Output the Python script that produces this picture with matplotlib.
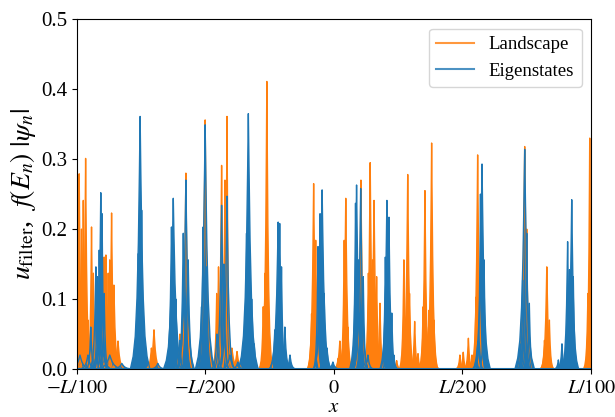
import matplotlib
matplotlib.use("Agg")
import matplotlib.pyplot as plt
from matplotlib.lines import Line2D
import numpy as np

plt.rcParams['font.family'] = 'serif'
plt.rcParams['font.serif'] = ['Liberation Serif', 'DejaVu Serif']
plt.rcParams['mathtext.fontset'] = 'stix'

# x in units of L/100, peaks: centre, height, half-width
land_x = [-0.996, -0.991, -0.982, -0.975, -0.966, -0.957, -0.943, -0.936, -0.922,
          -0.894, -0.887, -0.878, -0.872, -0.865, -0.856, -0.840,
          -0.960, -0.870,
          -0.710, -0.700, -0.599, -0.576, -0.501,
          -0.456, -0.449, -0.437, -0.424, -0.416, -0.397, -0.377,
          -0.275, -0.268, -0.261, -0.087, -0.079, -0.071,
          0.016, 0.023, 0.040, 0.046, 0.054, 0.105,
          0.134, 0.141, 0.150, 0.156, 0.166, 0.179, 0.155, 0.244,
          0.272, 0.287, 0.294, 0.314, 0.327,
          0.347, 0.354, 0.370, 0.380, 0.389, 0.368,
          0.490, 0.503, 0.523, 0.537, 0.553, 0.559,
          0.742, 0.750, 0.819, 0.828, 0.838, 0.988, 0.995]
land_h = [0.14, 0.279, 0.20, 0.241, 0.301, 0.07, 0.203, 0.137, 0.05,
          0.16, 0.163, 0.137, 0.156, 0.223, 0.12, 0.04,
          0.06, 0.08,
          0.03, 0.056, 0.05, 0.28, 0.356,
          0.108, 0.146, 0.291, 0.270, 0.361, 0.03, 0.025,
          0.089, 0.137, 0.411, 0.079, 0.265, 0.184,
          0.015, 0.04, 0.184, 0.244, 0.06, 0.270,
          0.137, 0.295, 0.156, 0.241, 0.132, 0.094, 0.08, 0.012,
          0.156, 0.278, 0.108, 0.068, 0.022,
          0.089, 0.255, 0.084, 0.323, 0.07, 0.06,
          0.02, 0.024, 0.044, 0.02, 0.103, 0.306,
          0.318, 0.20, 0.041, 0.146, 0.070, 0.108, 0.33]
land_w = [0.012, 0.014, 0.012, 0.014, 0.014, 0.012, 0.012, 0.012, 0.016,
          0.014, 0.014, 0.012, 0.014, 0.014, 0.016, 0.019,
          0.030, 0.030,
          0.016, 0.019, 0.012, 0.016, 0.019,
          0.012, 0.012, 0.016, 0.012, 0.012, 0.023, 0.019,
          0.012, 0.012, 0.016, 0.012, 0.016, 0.012,
          0.012, 0.016, 0.012, 0.016, 0.012, 0.016,
          0.012, 0.016, 0.012, 0.016, 0.012, 0.012, 0.030, 0.012,
          0.012, 0.016, 0.012, 0.012, 0.012,
          0.012, 0.014, 0.012, 0.016, 0.012, 0.030,
          0.012, 0.012, 0.012, 0.012, 0.012, 0.016,
          0.019, 0.012, 0.012, 0.016, 0.012, 0.012, 0.012]

eig_x = [-0.988, -0.957, -0.946, -0.926, -0.919, -0.913, -0.907, -0.902, -0.894,
         -0.910,
         -0.872, -0.825, -0.761, -0.754, -0.748, -0.685,
         -0.632, -0.625, -0.615, -0.599, -0.586, -0.576, -0.567,
         -0.515, -0.509, -0.501, -0.495,
         -0.455, -0.437, -0.428, -0.416, -0.405, -0.374,
         -0.340, -0.333, -0.320, -0.310,
         -0.230, -0.217, -0.211, -0.204, -0.191, -0.171,
         -0.062, -0.054, -0.046, -0.038, -0.027, -0.004,
         0.084, 0.088, 0.095, 0.104, 0.114, 0.132, 0.097,
         0.200, 0.206, 0.214, 0.225, 0.233,
         0.560, 0.570, 0.576, 0.584,
         0.724, 0.734, 0.742, 0.750, 0.760,
         0.873, 0.887, 0.909, 0.916, 0.925, 0.931]
eig_h = [0.02, 0.02, 0.060, 0.146, 0.132, 0.170, 0.252, 0.222, 0.108,
         0.07,
         0.02, 0.008, 0.165, 0.361, 0.227, 0.008,
         0.203, 0.244, 0.10, 0.041, 0.194, 0.270, 0.156,
         0.089, 0.203, 0.349, 0.146,
         0.05, 0.234, 0.15, 0.247, 0.02, 0.01,
         0.194, 0.365, 0.100, 0.036,
         0.056, 0.210, 0.208, 0.146, 0.06, 0.02,
         0.175, 0.222, 0.256, 0.108, 0.03, 0.01,
         0.237, 0.263, 0.156, 0.258, 0.132, 0.02, 0.08,
         0.16, 0.241, 0.217, 0.08, 0.02,
         0.04, 0.25, 0.293, 0.156,
         0.036, 0.127, 0.314, 0.194, 0.094,
         0.013, 0.036, 0.182, 0.142, 0.242, 0.132]
eig_w = [0.031, 0.023, 0.012, 0.016, 0.012, 0.012, 0.016, 0.012, 0.012,
         0.030,
         0.039, 0.031, 0.012, 0.027, 0.012, 0.023,
         0.016, 0.027, 0.016, 0.012, 0.016, 0.023, 0.016,
         0.012, 0.012, 0.027, 0.012,
         0.016, 0.019, 0.012, 0.019, 0.023, 0.019,
         0.012, 0.027, 0.016, 0.012,
         0.016, 0.023, 0.016, 0.012, 0.016, 0.016,
         0.012, 0.016, 0.023, 0.012, 0.016, 0.019,
         0.012, 0.019, 0.012, 0.019, 0.012, 0.016, 0.025,
         0.012, 0.019, 0.016, 0.012, 0.012,
         0.016, 0.012, 0.023, 0.012,
         0.012, 0.012, 0.027, 0.012, 0.012,
         0.012, 0.012, 0.016, 0.012, 0.019, 0.012]

# shape of one spike (relative to its half-width and height)
spike_dx = np.array([-1.4, -1.0, -0.7, -0.45, -0.25, -0.1, 0,
                     0.1, 0.25, 0.45, 0.7, 1.0, 1.4])
spike_dy = np.array([0, 0.05, 0.13, 0.28, 0.5, 0.78, 1,
                     0.78, 0.5, 0.28, 0.13, 0.05, 0])

fig = plt.figure(figsize=(6.15, 4.17), dpi=100)
ax = fig.add_axes([0.125, 0.115, 0.836, 0.839])


def draw_peaks(xs, hs, ws, color):
    for c, h, w in zip(xs, hs, ws):
        px = c + w * spike_dx
        py = h * spike_dy
        ax.fill(px, py, color=color, lw=0)
        ax.plot(px, py, color=color, lw=1.0)


draw_peaks(land_x, land_h, land_w, 'C1')
draw_peaks(eig_x, eig_h, eig_w, 'C0')
ax.plot([-1, 1], [0, 0], color='C0', lw=1.5)

ax.set_xlim(-1, 1)
ax.set_ylim(0, 0.5)
ax.set_xticks([-1, -0.5, 0, 0.5, 1])
ax.set_xticklabels(['$-L/100$', '$-L/200$', '$0$', '$L/200$', '$L/100$'])
ax.set_yticks([0, 0.1, 0.2, 0.3, 0.4, 0.5])
ax.tick_params(axis='y', labelsize=15)
ax.tick_params(axis='x', labelsize=14.5, pad=4)
ax.set_xlabel('$x$', fontsize=15, labelpad=0)
ax.set_ylabel(r'$u_{\rm filter}$,$\ \ f(E_n)\ |\psi_n|$', fontsize=20, labelpad=2)

handles = [Line2D([], [], color='C1', lw=1.5, alpha=0.8),
           Line2D([], [], color='C0', lw=1.5, alpha=0.8)]
ax.legend(handles, ['Landscape', 'Eigenstates'], loc='upper right', fontsize=13.5)

fig.savefig('out.png', dpi=100)
